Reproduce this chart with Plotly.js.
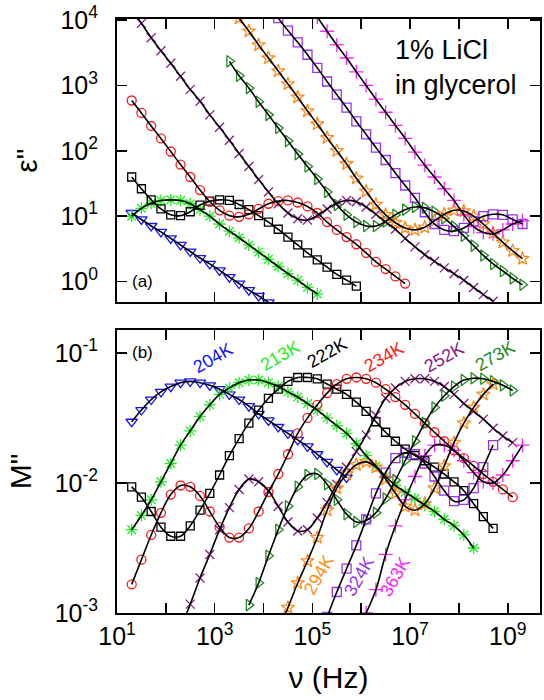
<!DOCTYPE html>
<html><head><meta charset="utf-8">
<script src="https://cdn.plot.ly/plotly-3.0.1.min.js"></script>
<style>html,body{margin:0;padding:0;background:#fff;}#chart{width:544px;height:700px;}</style>
</head><body><div id="chart"></div>
<script>
// Frequency grid (Hz)
const freq = [20, 31.6, 50.1, 79.4, 126, 200, 316, 501, 794, 1260, 2000, 3160, 5010, 7940, 12600, 20000, 31600, 50100, 79400, 1.26e5, 2e5, 3.16e5, 5.01e5, 7.94e5, 1.26e6, 2e6, 3.16e6, 5.01e6, 7.94e6, 1.26e7, 2e7, 3.16e7, 5.01e7, 7.94e7, 1.26e8, 2e8, 3.16e8, 5.01e8, 7.94e8, 1.26e9, 2e9];

const temps = ['204K', '213K', '222K', '234K', '252K', '273K', '294K', '324K', '363K'];

// Panel (a): eps''
const eps204 = [11.2, 8.91, 7.08, 5.75, 4.57, 3.63, 2.88, 2.29, 1.86, 1.48, 1.17, 0.933, 0.741, 0.603, 0.479];
const eps213 = [10.0, 13.2, 15.8, 17.4, 17.8, 17.4, 15.5, 12.6, 10.0, 7.59, 5.89, 4.68, 3.63, 2.82, 2.19, 1.70, 1.32, 1.05, 0.813, 0.646];
const eps222 = [39.8, 26.3, 17.8, 12.9, 10.5, 10.2, 11.7, 14.8, 17.0, 17.8, 17.4, 15.1, 12.6, 10.2, 8.13, 6.31, 4.79, 3.63, 2.75, 2.14, 1.66, 1.29, 1.05, 0.851];
const eps234 = [589, 380, 240, 155, 97.7, 61.7, 39.8, 25.1, 16.6, 12.3, 10.2, 9.77, 10.7, 12.9, 15.5, 17.0, 17.4, 16.2, 14.1, 11.2, 8.13, 6.17, 4.79, 3.72, 2.75, 2.0, 1.55, 1.20, 0.933];
const eps252 = [15100, 8910, 5370, 3390, 2190, 1380, 871, 575, 355, 229, 145, 91.2, 57.5, 36.3, 23.4, 15.5, 11.2, 9.12, 8.71, 10.2, 12.9, 15.8, 17.4, 16.6, 13.8, 10.7, 8.13, 6.31, 4.57, 3.39, 2.57, 2.04, 1.62, 1.32, 1.05, 0.813, 0.631, 0.501];
const eps273 = [null, null, null, null, null, null, null, null, null, null, 2340, 1410, 912, 562, 355, 224, 141, 89.1, 57.5, 37.2, 23.4, 14.8, 10.5, 8.13, 7.08, 7.08, 8.32, 10.5, 12.6, 13.8, 13.5, 11.7, 9.33, 6.92, 5.01, 3.55, 2.51, 1.86, 1.45, 1.12, 0.891];
const eps294 = [null, null, null, null, null, null, null, null, null, null, null, 10700, 6760, 4170, 2630, 1660, 1050, 661, 407, 257, 158, 100, 63.1, 38.0, 24.0, 15.1, 10.5, 7.94, 6.61, 6.17, 6.76, 8.51, 10.7, 12.3, 12.0, 10.0, 7.59, 5.50, 3.98, 2.95, 2.24];
const eps324 = [null, null, null, null, null, null, null, null, null, null, null, null, null, null, null, 10700, 6920, 4570, 2950, 1860, 1150, 724, 457, 282, 178, 112, 72.4, 45.7, 29.5, 19.1, 11.5, 7.59, 6.17, 5.89, 6.61, 8.32, 10.0, 10.7, 10.5, 8.91, 7.59];
const eps363 = [null, null, null, null, null, null, null, null, null, null, null, null, null, null, null, null, null, null, null, 11200, 6760, 4170, 2630, 1620, 1000, 617, 389, 245, 155, 95.5, 60.3, 39.8, 26.3, 17.4, 10.5, 6.92, 5.62, 5.37, 6.17, 7.59, 8.51];

// Panel (b): M''
const M204 = [0.0295, 0.0363, 0.0437, 0.0501, 0.0550, 0.0589, 0.0603, 0.0589, 0.0562, 0.0525, 0.0479, 0.0437, 0.0389, 0.0339, 0.0302, 0.0269, 0.0240, 0.0214, 0.0191, 0.0166, 0.0145, 0.0126, 0.0110];
const M213 = [0.00437, 0.00562, 0.00741, 0.0102, 0.0141, 0.0195, 0.0251, 0.0324, 0.0398, 0.0479, 0.0537, 0.0589, 0.0617, 0.0617, 0.0589, 0.0550, 0.0501, 0.0457, 0.0407, 0.0363, 0.0316, 0.0275, 0.0240, 0.0200, 0.0162, 0.0135, 0.0112, 0.00955, 0.00851, 0.00759, 0.00676, 0.00603, 0.00525, 0.00468, 0.00398, 0.00316];
const M222 = [0.00933, 0.00776, 0.00603, 0.00457, 0.00389, 0.00389, 0.00468, 0.00617, 0.00832, 0.0115, 0.0162, 0.0219, 0.0288, 0.0363, 0.0447, 0.0525, 0.0603, 0.0646, 0.0646, 0.0631, 0.0575, 0.0525, 0.0479, 0.0417, 0.0355, 0.0295, 0.0245, 0.0209, 0.0182, 0.0162, 0.0148, 0.0132, 0.0117, 0.0102, 0.00871, 0.00692, 0.00550, 0.00447];
const M234 = [0.00166, 0.00257, 0.00398, 0.00589, 0.00813, 0.00955, 0.00933, 0.00794, 0.00603, 0.00457, 0.00380, 0.00380, 0.00447, 0.00603, 0.00851, 0.0117, 0.0166, 0.0240, 0.0316, 0.0398, 0.0490, 0.0575, 0.0631, 0.0646, 0.0631, 0.0589, 0.0525, 0.0457, 0.0398, 0.0339, 0.0288, 0.0245, 0.0209, 0.0178, 0.0155, 0.0135, 0.0117, 0.0102, 0.00891, 0.00776];
const M252 = [null, null, null, null, null, 0.000759, 0.00117, 0.00186, 0.00282, 0.00437, 0.00646, 0.00891, 0.0107, 0.0102, 0.00871, 0.00661, 0.00501, 0.00427, 0.00437, 0.00537, 0.00708, 0.00977, 0.0132, 0.0174, 0.0234, 0.0331, 0.0447, 0.0537, 0.0603, 0.0631, 0.0631, 0.0603, 0.0550, 0.0479, 0.0407, 0.0355, 0.0309, 0.0263, 0.0229, 0.0204];
const M273 = [null, null, null, null, null, null, null, null, null, null, null, null, 0.00115, 0.00170, 0.00275, 0.00437, 0.00661, 0.00933, 0.0115, 0.0117, 0.00977, 0.00741, 0.00575, 0.00501, 0.00513, 0.00589, 0.00759, 0.0105, 0.0148, 0.0209, 0.0288, 0.0380, 0.0468, 0.0550, 0.0617, 0.0638, 0.0631, 0.0603, 0.0562, 0.0513];
const M294 = [null, null, null, null, null, null, null, null, null, null, null, null, null, null, null, 0.000741, 0.00110, 0.00170, 0.00251, 0.00380, 0.00617, 0.00912, 0.0117, 0.0138, 0.0145, 0.0132, 0.0107, 0.00832, 0.00661, 0.00617, 0.00692, 0.00912, 0.0135, 0.0204, 0.0288, 0.0380, 0.0479, 0.0575];
const M324 = [null, null, null, null, null, null, null, null, null, null, null, null, null, null, null, null, null, null, null, null, 0.000933, 0.00145, 0.00219, 0.00331, 0.00525, 0.00832, 0.0120, 0.0155, 0.0170, 0.0166, 0.0141, 0.0112, 0.00871, 0.00724, 0.00741, 0.00912, 0.0132, 0.0195];
const M363 = [null, null, null, null, null, null, null, null, null, null, null, null, null, null, null, null, null, null, null, null, null, null, null, null, 0.00100, 0.00151, 0.00282, 0.00468, 0.00741, 0.0112, 0.0162, 0.0195, 0.0195, 0.0178, 0.0148, 0.0120, 0.0102, 0.0100, 0.0115, 0.0148, 0.0195];

// Axis ticks
const xTickVals = [1e1, 1e3, 1e5, 1e7, 1e9];
const xTickText = ['10<sup>1</sup>', '10<sup>3</sup>', '10<sup>5</sup>', '10<sup>7</sup>', '10<sup>9</sup>'];
const xMinorVals = [1e2, 1e4, 1e6, 1e8];
const yaTickVals = [1, 10, 100, 1000, 10000];
const yaTickText = ['10<sup>0</sup>', '10<sup>1</sup>', '10<sup>2</sup>', '10<sup>3</sup>', '10<sup>4</sup>'];
const ybTickVals = [0.001, 0.01, 0.1];
const ybTickText = ['10<sup>-3</sup>', '10<sup>-2</sup>', '10<sup>-1</sup>'];

// Styles
const epsData = [eps204, eps213, eps222, eps234, eps252, eps273, eps294, eps324, eps363];
const mData = [M204, M213, M222, M234, M252, M273, M294, M324, M363];
const colors = ['#1414ff', '#22ee22', '#000000', '#ff1a1a', '#8b1a8b', '#1f8a1f', '#ff8c1a', '#9933ee', '#ff22ff'];
const symbols = ['triangle-down-open', 'asterisk-open', 'square-open', 'circle-open', 'x-thin-open', 'triangle-right-open', 'star-open', 'square-open', 'cross-thin-open'];
const sizes = [10, 10, 8, 9, 9, 10, 10, 9, 10];

const traces = [];
function markerTrace(y, i, xa, ya) {
  return {x: freq, y: y, xaxis: xa, yaxis: ya, mode: 'markers', type: 'scatter', name: temps[i],
    marker: {symbol: symbols[i], size: sizes[i], color: colors[i], line: {color: colors[i], width: 1.3}},
    hoverinfo: 'skip'};
}
function lineTrace(y, xa, ya) {
  return {x: freq, y: y, xaxis: xa, yaxis: ya, mode: 'lines', type: 'scatter',
    line: {color: '#000', width: 1.6, shape: 'spline', smoothing: 1}, hoverinfo: 'skip'};
}
for (let i = 0; i < temps.length; i++) {
  traces.push(markerTrace(epsData[i], i, 'x', 'y'));
  traces.push(markerTrace(mData[i], i, 'x2', 'y2'));
}
for (let i = 0; i < temps.length; i++) {
  traces.push(lineTrace(epsData[i], 'x', 'y'));
  traces.push(lineTrace(mData[i], 'x2', 'y2'));
}

const FONT = 'Liberation Sans, Arial, Helvetica, sans-serif';
const axisCommon = {type: 'log', tickmode: 'array', ticks: 'inside', ticklen: 10, tickwidth: 1.5, tickcolor: '#000',
  linewidth: 2, linecolor: '#000', mirror: 'allticks', showgrid: false, zeroline: false,
  tickfont: {size: 25, color: '#000', family: FONT}, automargin: false};
const xMinor = {tickmode: 'array', tickvals: xMinorVals, ticks: 'inside', ticklen: 10, tickwidth: 1.5, tickcolor: '#000', showgrid: false};

const labelPos = [
  {t: '204K', x: 0.227, y: 0.429, a: -30},
  {t: '213K', x: 0.385, y: 0.433, a: -30},
  {t: '222K', x: 0.496, y: 0.438, a: -30},
  {t: '234K', x: 0.632, y: 0.431, a: -30},
  {t: '252K', x: 0.774, y: 0.431, a: -30},
  {t: '273K', x: 0.894, y: 0.433, a: -30},
  {t: '294K', x: 0.477, y: 0.064, a: -60},
  {t: '324K', x: 0.573, y: 0.062, a: -60},
  {t: '363K', x: 0.657, y: 0.061, a: -60}
];
const annotations = labelPos.map((p, i) => ({text: p.t, x: p.x, y: p.y, xref: 'paper', yref: 'paper',
  xanchor: 'center', yanchor: 'middle', showarrow: false, textangle: p.a,
  font: {size: 18, color: colors[i], family: FONT}}));
annotations.push({text: '(a)', x: 0.031, y: 0.558, xref: 'paper', yref: 'paper', xanchor: 'left', yanchor: 'middle', showarrow: false, font: {size: 17, color: '#000', family: FONT}});
annotations.push({text: '(b)', x: 0.031, y: 0.438, xref: 'paper', yref: 'paper', xanchor: 'left', yanchor: 'middle', showarrow: false, font: {size: 17, color: '#000', family: FONT}});
annotations.push({text: '1% LiCl', x: 0.652, y: 0.948, xref: 'paper', yref: 'paper', xanchor: 'left', yanchor: 'middle', showarrow: false, font: {size: 27, color: '#000', family: FONT}});
annotations.push({text: 'in glycerol', x: 0.652, y: 0.889, xref: 'paper', yref: 'paper', xanchor: 'left', yanchor: 'middle', showarrow: false, font: {size: 27, color: '#000', family: FONT}});

const layout = {
  width: 544, height: 700, margin: {l: 117, r: 4, t: 19, b: 87}, showlegend: false,
  paper_bgcolor: '#fff', plot_bgcolor: '#fff', font: {family: FONT, color: '#000'},
  xaxis: Object.assign({}, axisCommon, {domain: [0, 1], anchor: 'y', range: [1, 9.66], tickvals: xTickVals, ticktext: xTickText, showticklabels: false, minor: xMinor}),
  yaxis: Object.assign({}, axisCommon, {domain: [0.5231, 1], anchor: 'x', range: [-0.317, 4.017], tickvals: yaTickVals, ticktext: yaTickText, ticklabelstandoff: 12,
    title: {text: 'ε"', font: {size: 30, family: FONT, color: '#000'}, standoff: 14}}),
  xaxis2: Object.assign({}, axisCommon, {domain: [0, 1], anchor: 'y2', range: [1, 9.66], tickvals: xTickVals, ticktext: xTickText, minor: xMinor,
    title: {text: 'ν (Hz)', font: {size: 30, family: FONT, color: '#000'}, standoff: 18}}),
  yaxis2: Object.assign({}, axisCommon, {domain: [0, 0.4764], anchor: 'x2', range: [-3, -0.825], tickvals: ybTickVals, ticktext: ybTickText, ticklabelstandoff: 12,
    title: {text: 'M"', font: {size: 30, family: FONT, color: '#000'}, standoff: 14}}),
  annotations: annotations
};

Plotly.newPlot('chart', traces, layout, {staticPlot: true, displayModeBar: false});
</script>
</body></html>
